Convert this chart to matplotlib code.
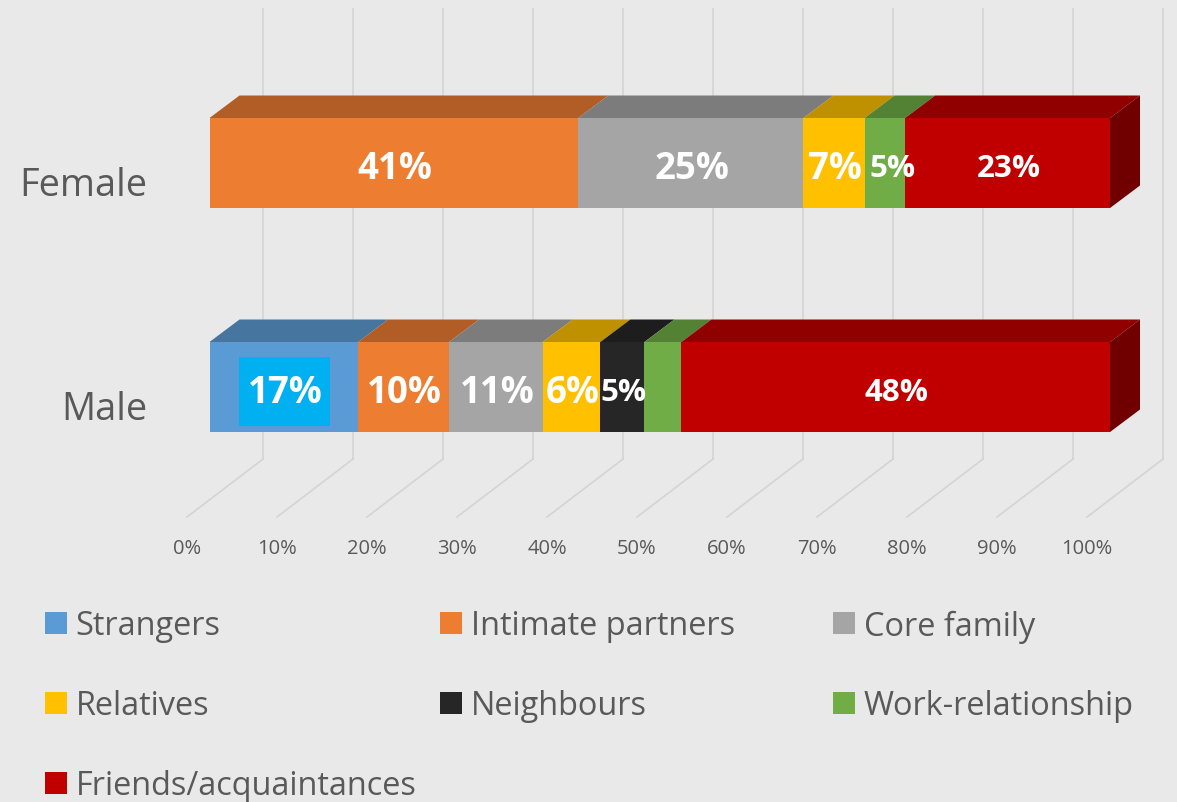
import numpy as np
import matplotlib.pyplot as plt
from matplotlib.patches import Polygon, Rectangle

plt.rcParams['font.family'] = ['Open Sans', 'DejaVu Sans']

categories = ['Female', 'Male']
series_names = ['Strangers', 'Intimate partners', 'Core family', 'Relatives',
                'Neighbours', 'Work-relationship', 'Friends/acquaintances']
strangers = [0, 16.5]
partners = [40.95, 10.1]
core_family = [25.0, 10.4]
relatives = [6.8, 6.4]
neighbours = [0, 4.9]
work = [4.5, 4.1]
friends = [22.75, 47.6]
labels_female = ['', '41%', '25%', '7%', '', '5%', '23%']
labels_male = ['17%', '10%', '11%', '6%', '5%', '', '48%']
ticks = [0, 10, 20, 30, 40, 50, 60, 70, 80, 90, 100]

front = ['#5B9BD5', '#ED7D31', '#A5A5A5', '#FFC000', '#262626', '#70AD47', '#C00000']
top = ['#46759F', '#B25D25', '#7C7C7C', '#BF9000', '#1D1D1D', '#548235', '#900000']
side = '#700000'
bg = '#E9E9E9'
grid = '#D4D4D4'
txt = '#595959'

W, H = 1177, 803
PX_PCT = 9.005   # pixels per percent
PX_CAT = 224.0   # pixels between the two bars


def xp(p):
    return (p - 209.5) / PX_PCT


def yp(p):
    return 1 + (164 - p) / PX_CAT


def fx(p):
    return p / W


def fy(p):
    return 1 - p / H


fig = plt.figure(figsize=(W / 100, H / 100), dpi=100, facecolor=bg)
ax = fig.add_axes([0, 0, 1, 1])
ax.set_xlim(xp(0), xp(W))
ax.set_ylim(yp(H), yp(0))
ax.axis('off')

# back wall lines + floor lines
dx_back = xp(263)
dx_floor = xp(187)
for t in ticks:
    ax.plot([t * 0.9995 + dx_back] * 2, [yp(10), yp(460)], color=grid, lw=1.2, zorder=1)
    ax.plot([t * 0.9995 + dx_back, t * 0.9995 + dx_floor], [yp(460), yp(518)], color=grid, lw=1.2, zorder=1)
    fig.text(fx(187 + t * 9.0), fy(549), f'{t}%', color=txt, fontsize=14.5,
             ha='center', va='center')

series = np.array([strangers, partners, core_family, relatives, neighbours, work, friends])
y_pos = [1, 0]
height = 90 / PX_CAT
dx = 30 / PX_PCT
dy = 22.5 / PX_CAT

for j, y in enumerate(y_pos):
    left = 0
    labels = labels_female if j == 0 else labels_male
    for i, name in enumerate(series_names):
        v = series[i][j]
        if v == 0:
            continue
        ax.bar(left, height, width=v, bottom=y - height / 2, align='edge', color=front[i], zorder=3)
        yt = y + height / 2
        ax.add_patch(Polygon([(left, yt), (left + v, yt), (left + v + dx, yt + dy), (left + dx, yt + dy)],
                             closed=True, fc=top[i], ec='none', zorder=3))
        c = left + v / 2
        if labels[i]:
            big = labels[i] not in ('23%', '48%', '5%')
            if labels[i] == '17%':
                ax.add_patch(Rectangle((xp(239), yp(427)), 91 / PX_PCT, 69 / PX_CAT,
                                       fc='#00B0F0', ec='none', zorder=4))
            if j == 0 and labels[i] == '5%':
                c += 7 / PX_PCT
            ax.text(c + 1 / PX_PCT, y - 5 / PX_CAT, labels[i], color='white', fontweight='bold',
                    fontsize=26.4 if big else 22.5, ha='center', va='center', zorder=5)
        left += v
    # right side face
    yb = y - height / 2
    yt = y + height / 2
    ax.add_patch(Polygon([(left, yb), (left, yt), (left + dx, yt + dy), (left + dx, yb + dy)],
                         closed=True, fc=side, ec='none', zorder=3))

cat_y = [186, 410]
for name, p in zip(categories, cat_y):
    fig.text(fx(147.5), fy(p), name, color=txt, fontsize=27.3, ha='right', va='center')

# legend by hand, three columns
col_x = [45, 440, 833]
row_y = [627, 707, 787]
for i, name in enumerate(series_names):
    x0 = col_x[i % 3]
    y0 = row_y[i // 3]
    fig.patches.append(Rectangle((fx(x0), fy(y0 + 8)), 22 / W, 22 / H, transform=fig.transFigure,
                                 fc=front[i], ec='none'))
    fig.text(fx(x0 + 30.5), fy(y0), name, color=txt, fontsize=23.4, ha='left', va='center')

fig.savefig('out.png', dpi=100, facecolor=bg)
